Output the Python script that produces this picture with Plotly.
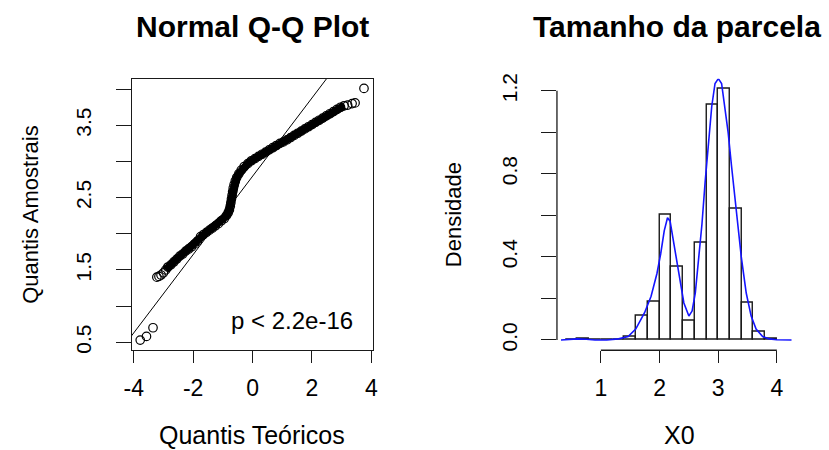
import plotly.graph_objects as go

# ---------------- data: Normal Q-Q plot ----------------
qq_theoretical = [-3.78, -3.57, -3.35,
                  -3.22, -3.15, -3.08, -3.00, -2.92, -2.85, -2.75, -2.65, -2.55, -2.45,
                  -2.35, -2.25, -2.15, -2.05, -1.95, -1.85, -1.75, -1.65, -1.55, -1.45,
                  -1.35, -1.25, -1.15, -1.05, -0.95, -0.88, -0.82, -0.78, -0.75, -0.73,
                  -0.71, -0.69, -0.67, -0.65, -0.62, -0.58, -0.53, -0.46, -0.38, -0.28,
                  -0.16, -0.04, 0.08, 0.20, 0.32, 0.44, 0.56, 0.68, 0.80, 0.92, 1.04,
                  1.16, 1.28, 1.40, 1.52, 1.64, 1.76, 1.88, 2.00, 2.12, 2.24, 2.36,
                  2.48, 2.60, 2.72, 2.84, 2.96, 3.08, 3.20, 3.35, 3.45, 3.75]
qq_sample = [0.53, 0.58, 0.70,
             1.40, 1.41, 1.43, 1.46, 1.50, 1.54, 1.57, 1.61, 1.65, 1.69,
             1.72, 1.76, 1.79, 1.82, 1.86, 1.90, 1.96, 1.99, 2.02, 2.05,
             2.08, 2.11, 2.14, 2.18, 2.21, 2.25, 2.29, 2.33, 2.38, 2.43,
             2.48, 2.53, 2.58, 2.63, 2.68, 2.73, 2.78, 2.83, 2.88, 2.93,
             2.97, 3.01, 3.04, 3.07, 3.10, 3.13, 3.16, 3.19, 3.22, 3.25, 3.27,
             3.30, 3.33, 3.36, 3.39, 3.42, 3.45, 3.48, 3.51, 3.54, 3.57, 3.60,
             3.63, 3.66, 3.69, 3.72, 3.75, 3.77, 3.78, 3.80, 3.81, 4.01]
qq_dense_first = 7     # index range where the points overlap into a solid band
qq_dense_last = 70
qqline_intercept = 2.795
qqline_slope = 0.5417
qq_xticks = [-4, -2, 0, 2, 4]
qq_yticks = [0.5, 1.0, 1.5, 2.0, 2.5, 3.0, 3.5, 4.0]
qq_yticktext = ["0.5", "", "1.5", "", "2.5", "", "3.5", ""]
p_text = "p < 2.2e-16"

# ---------------- data: histogram + density ----------------
hist_breaks = [0.4, 0.6, 0.8, 1.0, 1.2, 1.4, 1.6, 1.8, 2.0, 2.2, 2.4, 2.6, 2.8,
               3.0, 3.2, 3.4, 3.6, 3.8, 4.0]
hist_density = [0.003, 0.006, 0.0, 0.0, 0.0, 0.016, 0.115, 0.186, 0.601, 0.355,
                0.095, 0.467, 1.132, 1.208, 0.632, 0.181, 0.039, 0.004]
dens_x = [0.32, 0.45, 0.60, 0.75, 0.90, 1.10, 1.30, 1.465, 1.594, 1.745, 1.856,
          1.956, 2.02, 2.08, 2.136, 2.18, 2.247, 2.33, 2.415, 2.50, 2.555, 2.61,
          2.668, 2.723, 2.778, 2.835, 2.89, 2.946, 3.003, 3.058, 3.114, 3.17,
          3.226, 3.282, 3.339, 3.394, 3.478, 3.562, 3.646, 3.758, 3.87, 4.0, 4.25]
dens_y = [0.0, 0.002, 0.005, 0.003, 0.0, 0.0, 0.005, 0.016, 0.052, 0.131, 0.21,
          0.32, 0.415, 0.525, 0.588, 0.572, 0.462, 0.32, 0.178, 0.115, 0.139, 0.226,
          0.383, 0.557, 0.762, 0.951, 1.124, 1.235, 1.258, 1.235, 1.124, 0.998,
          0.841, 0.683, 0.541, 0.399, 0.226, 0.115, 0.052, 0.016, 0.005, 0.001, 0.0]
hist_xticks = [1, 2, 3, 4]
hist_yticks = [0.0, 0.2, 0.4, 0.6, 0.8, 1.0, 1.2]
hist_yticktext = ["0.0", "", "0.4", "", "0.8", "", "1.2"]

# ---------------- figure ----------------
W, H = 829, 450
FONT = "Liberation Sans, Arial, sans-serif"
INK = "#1a1a1a"

fig = go.Figure()

# Q-Q points: solid band where points overlap, then open circles
fig.add_trace(go.Scatter(
    x=qq_theoretical[qq_dense_first:qq_dense_last + 1],
    y=qq_sample[qq_dense_first:qq_dense_last + 1],
    mode="lines", line=dict(color="black", width=8),
    xaxis="x", yaxis="y", hoverinfo="skip", showlegend=False))
fig.add_trace(go.Scatter(
    x=qq_theoretical, y=qq_sample, mode="markers",
    marker=dict(symbol="circle-open", size=8.5, color="black", line=dict(width=1.2)),
    xaxis="x", yaxis="y", showlegend=False, cliponaxis=False))
# Q-Q reference line
line_x = [qq_xticks[0] - 1, qq_xticks[-1] + 1]
fig.add_trace(go.Scatter(
    x=line_x, y=[qqline_intercept + qqline_slope * v for v in line_x],
    mode="lines", line=dict(color="black", width=1),
    xaxis="x", yaxis="y", showlegend=False))

# Histogram (density scale)
mids = [(a + b) / 2 for a, b in zip(hist_breaks[:-1], hist_breaks[1:])]
widths = [b - a for a, b in zip(hist_breaks[:-1], hist_breaks[1:])]
fig.add_trace(go.Bar(
    x=mids, y=hist_density, width=widths,
    marker=dict(color="rgba(255,255,255,0)", line=dict(color=INK, width=1.4)),
    xaxis="x2", yaxis="y2", showlegend=False))
fig.add_trace(go.Scatter(
    x=dens_x, y=dens_y, mode="lines", line=dict(color="#1414ff", width=1.6),
    xaxis="x2", yaxis="y2", showlegend=False))

xtickfont = dict(family=FONT, size=23, color="black")
ytickfont = dict(family=FONT, size=21, color="black")
common_x = dict(ticks="outside", ticklen=12, tickwidth=1.3, tickcolor=INK,
                showgrid=False, zeroline=False, tickfont=xtickfont,
                ticklabelstandoff=5)
common_y = dict(ticks="outside", ticklen=15, tickwidth=1.3, tickcolor=INK,
                showgrid=False, zeroline=False, tickfont=ytickfont,
                tickangle=-90, ticklabelstandoff=16)

y_dom = [1 - 351.5 / H, 1 - 75 / H]
fig.update_layout(
    width=W, height=H, margin=dict(l=0, r=0, t=0, b=0),
    paper_bgcolor="white", plot_bgcolor="white", bargap=0,
    xaxis=dict(domain=[125.7 / W, 370.5 / W], range=[-4.066, 4.043],
               tickvals=qq_xticks, ticktext=[str(v) for v in qq_xticks],
               showline=True, mirror=True, linecolor=INK, linewidth=1.3,
               anchor="y", **common_x),
    yaxis=dict(domain=y_dom, range=[0.389, 4.145],
               tickvals=qq_yticks, ticktext=qq_yticktext,
               showline=True, mirror=True, linecolor=INK, linewidth=1.3,
               anchor="x", **common_y),
    xaxis2=dict(domain=[557.7 / W, 801 / W], range=[0.2513, 4.334],
                tickvals=hist_xticks, ticktext=[str(v) for v in hist_xticks],
                showline=False, anchor="y2", **common_x),
    yaxis2=dict(domain=y_dom, range=[-0.0497, 1.258],
                tickvals=hist_yticks, ticktext=hist_yticktext,
                showline=False, anchor="x2", **common_y),
)

# R-style axis lines spanning only the tick range (right panel)
fig.add_shape(type="line", xref="x2", yref="y2 domain",
              x0=hist_xticks[0], x1=hist_xticks[-1], y0=0, y1=0,
              line=dict(color=INK, width=1.3))
fig.add_shape(type="line", xref="x2 domain", yref="y2",
              x0=0, x1=0, y0=hist_yticks[0], y1=hist_yticks[-1],
              line=dict(color=INK, width=1.3))

titlefont = dict(family=FONT, size=30, color="black")
xlabfont = dict(family=FONT, size=25, color="black")
ylabfont = dict(family=FONT, size=22, color="black")
ann = [
    dict(text="<b>Normal Q-Q Plot</b>", x=248 / W, y=1 - 22 / H, font=titlefont),
    dict(text="<b>Tamanho da parcela</b>", x=679.5 / W, y=1 - 22 / H, font=titlefont),
    dict(text="Quantis Teóricos", x=248 / W, y=1 - 438 / H, font=xlabfont),
    dict(text="X0", x=682 / W, y=1 - 438 / H, font=xlabfont),
    dict(text="Quantis Amostrais", x=23 / W, y=1 - 213 / H, font=ylabfont, textangle=-90),
    dict(text="Densidade", x=452 / W, y=1 - 213 / H, font=ylabfont, textangle=-90),
]
for a in ann:
    fig.add_annotation(xref="paper", yref="paper", showarrow=False,
                       xanchor="center", yanchor="middle", **a)
fig.add_annotation(text=p_text, xref="x domain", yref="y domain",
                   x=0.925, y=0.108, xanchor="right", yanchor="middle",
                   showarrow=False, font=dict(family=FONT, size=24, color="black"))

fig.write_html("out.html")
